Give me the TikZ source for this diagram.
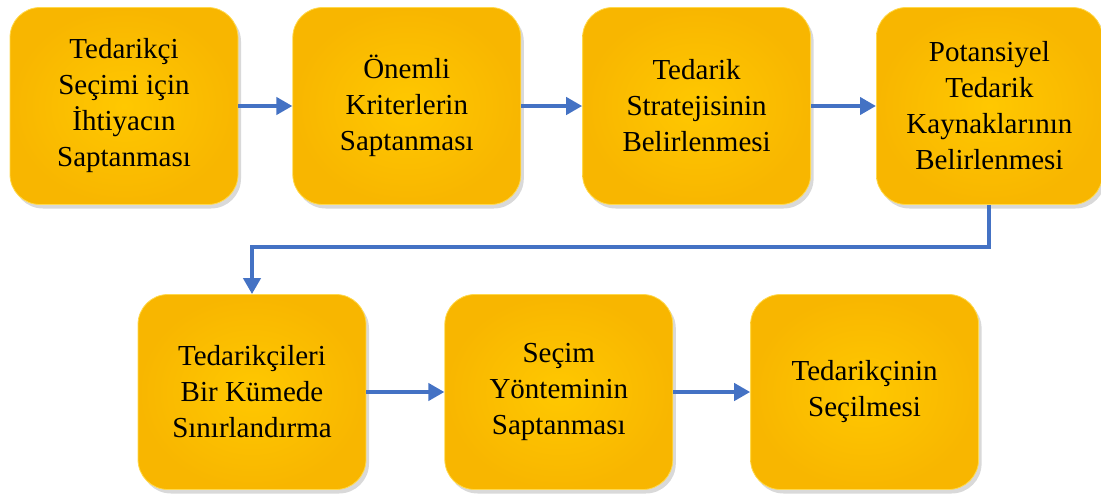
\documentclass[tikz,border=0pt]{standalone}
\usepackage{fontspec}
\setmainfont{Liberation Serif}
\usepackage{xcolor}
\usepackage{tikz}
\usetikzlibrary{positioning, arrows.meta, shadows}

\definecolor{goldin}{RGB}{255,200,0}
\definecolor{goldout}{RGB}{248,182,0}
\definecolor{flowblue}{RGB}{68,114,196}

\begin{document}
\begin{tikzpicture}[x=1pt, y=-1pt,
	stage/.style={rounded corners=30pt, minimum width=228pt, minimum height=197pt, align=center,
		inner color=goldin, outer color=goldout, draw=goldin!70!white, line width=0.8pt,
		drop shadow={shadow xshift=3pt, shadow yshift=-4pt, opacity=0.3},
		font=\fontsize{29}{36}\selectfont},
	flow/.style={draw=flowblue, line width=4pt, -{Triangle[length=16pt, width=17pt]}}]
	\useasboundingbox (0,0) rectangle (1101,498);
	% Top row
	\node[stage] (need) at (124,106) {Tedarikçi\\Seçimi için\\İhtiyacın\\Saptanması};
	\node[stage, right=54pt of need] (criteria) {Önemli\\Kriterlerin\\Saptanması};
	\node[stage, right=61pt of criteria] (strategy) {Tedarik\\Stratejisinin\\Belirlenmesi};
	\node[stage, minimum width=226pt, right=65pt of strategy] (sources) {Potansiyel\\Tedarik\\Kaynaklarının\\Belirlenmesi};
	% Bottom row
	\node[stage, minimum height=195pt] (limit) at (252,392) {Tedarikçileri\\Bir Kümede\\Sınırlandırma};
	\node[stage, minimum height=195pt, right=78pt of limit] (method) {Seçim\\Yönteminin\\Saptanması};
	\node[stage, minimum height=195pt, right=77pt of method] (select) {Tedarikçinin\\Seçilmesi};
	
	% Connections
	\draw[flow] (need) -- (criteria);
	\draw[flow] (criteria) -- (strategy);
	\draw[flow] (strategy) -- (sources);
	\draw[flow] (sources.south) -- ++(0,42) -| (limit.north);
	\draw[flow] (limit) -- (method);
	\draw[flow] (method) -- (select);
\end{tikzpicture}
\end{document}
